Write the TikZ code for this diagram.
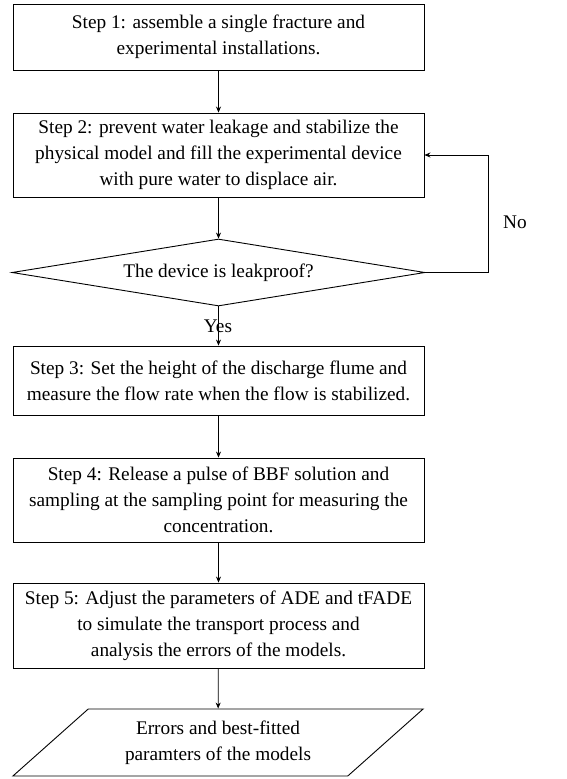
\documentclass[tikz,border=0pt]{standalone}
\usepackage{fontspec}
\setmainfont{Liberation Serif}
\usetikzlibrary{shapes.geometric,arrows.meta}
\begin{document}
\begin{tikzpicture}[x=1pt,y=-1pt,
  every node/.style={font=\fontsize{19.3}{26}\selectfont},
  stepbox/.style={draw, line width=0.9pt, minimum width=411pt, align=center, inner sep=0pt},
  decide/.style={draw, line width=0.9pt, diamond, aspect=6, minimum width=413pt, minimum height=67pt, inner sep=0pt},
  outbox/.style={draw, line width=0.9pt, trapezium, trapezium left angle=39, trapezium right angle=141, trapezium stretches=true, minimum width=412pt, minimum height=67pt, inner sep=0pt, align=center},
  arr/.style={line width=0.7pt, -{Stealth[length=6pt,width=5pt]}}]
\useasboundingbox (0,0) rectangle (567,779);
\node[stepbox, minimum height=66pt] (s1) at (218.5,37) {Step 1: assemble a single fracture and\\experimental installations.};
\node[stepbox, minimum height=84pt] (s2) at (218.5,155) {Step 2: prevent water leakage and stabilize the\\physical model and fill the experimental device\\with pure water to displace air.};
\node[decide] (d) at (218.5,272.5) {The device is leakproof?};
\node[stepbox, minimum height=69pt] (s3) at (218.5,380.5) {Step 3: Set the height of the discharge flume and\\measure the flow rate when the flow is stabilized.};
\node[stepbox, minimum height=84pt] (s4) at (218.5,500) {Step 4: Release a pulse of BBF solution and\\sampling at the sampling point for measuring the\\concentration.};
\node[stepbox, minimum height=85pt] (s5) at (218.5,625.5) {Step 5: Adjust the parameters of ADE and tFADE\\to simulate the transport process and\\analysis the errors of the models.};
\node[outbox] (out) at (218,742.5) {Errors and best-fitted\\paramters of the models};
\coordinate (turn) at (488,272.5);
\node (no) at (515,222) {No};
\node (yes) at (218,326) {Yes};
\draw[arr] (s1) -- (s2);
\draw[arr] (s2) -- (d);
\draw[arr] (d) -- (s3);
\draw[arr] (s3) -- (s4);
\draw[arr] (s4) -- (s5);
\draw[arr] (s5) -- (out);
\draw[arr] (d.east) -- (turn) |- (s2.east);
\end{tikzpicture}
\end{document}
